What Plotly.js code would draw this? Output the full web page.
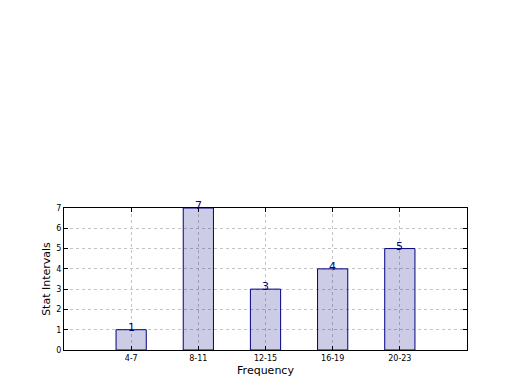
<!DOCTYPE html>
<html><head><meta charset="utf-8">
<script src="https://cdn.plot.ly/plotly-3.0.1.min.js"></script>
<style>html,body{margin:0;padding:0;background:#fff}#c{width:520px;height:390px}</style>
</head><body><div id="c"></div>
<script>
var categories = ["4-7", "8-11", "12-15", "16-19", "20-23"];
var values = [1, 7, 3, 4, 5];
var yTicks = [0, 1, 2, 3, 4, 5, 6, 7];

var idx = categories.map(function(_, i){ return i; });
var trace = {
  type: 'bar', x: idx, y: values, width: 0.45,
  marker: {color: 'rgba(0,0,128,0.2)', line: {color: '#000080', width: 1}},
  hoverinfo: 'none'
};
var annotations = idx.map(function(i){
  return {x: i, y: values[i], text: String(values[i]), showarrow: false,
    xref: 'x', yref: 'y', yanchor: 'bottom', yshift: -6,
    font: {family: 'DejaVu Sans', size: 11, color: '#000080'}};
});
var layout = {
  width: 520, height: 390,
  margin: {l: 64, r: 53, t: 208, b: 40, pad: 0},
  paper_bgcolor: '#fff', plot_bgcolor: '#fff',
  showlegend: false,
  font: {family: 'DejaVu Sans', color: '#000'},
  xaxis: {range: [-1, 5], tickvals: idx, ticktext: categories,
    tickfont: {size: 8}, ticks: 'inside', ticklen: 4, tickcolor: '#000',
    showgrid: true, gridcolor: '#c4c4c4', griddash: 'dot', gridwidth: 1,
    showline: true, linecolor: '#000', linewidth: 1, mirror: 'ticks', zeroline: false,
    title: {text: 'Frequency', font: {size: 11}, standoff: 4}},
  yaxis: {range: [0, 7], tickvals: yTicks,
    tickfont: {size: 8}, ticks: 'inside', ticklen: 4, tickcolor: '#000',
    showgrid: true, gridcolor: '#c4c4c4', griddash: 'dot', gridwidth: 1,
    showline: true, linecolor: '#000', linewidth: 1, mirror: 'ticks', zeroline: false,
    title: {text: 'Stat Intervals', font: {size: 11}, standoff: 3}},
  annotations: annotations
};
Plotly.newPlot('c', [trace], layout, {staticPlot: true});
</script></body></html>
